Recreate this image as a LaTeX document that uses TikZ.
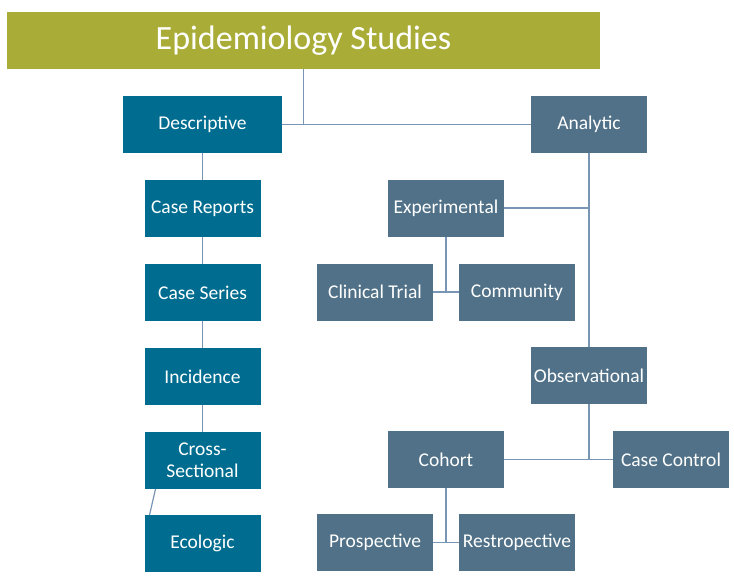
\documentclass[tikz,border=0pt]{standalone}
\usepackage{fontspec}
\setmainfont{Carlito}
\usetikzlibrary{positioning, calc}
\definecolor{titleolive}{RGB}{169,173,55}
\definecolor{descteal}{RGB}{0,109,144}
\definecolor{anaslate}{RGB}{80,113,135}
\definecolor{linkblue}{RGB}{120,150,180}
\tikzset{
  titlebox/.style={rectangle,fill=titleolive,text=white,minimum width=593pt,
    minimum height=57pt,inner sep=0pt,outer sep=0pt,font=\fontsize{34}{40}\selectfont},
  dbox/.style={rectangle,fill=descteal,text=white,minimum width=116pt,
    minimum height=57pt,inner sep=0pt,outer sep=0pt,align=center,
    font=\fontsize{19.5}{22}\selectfont},
  abox/.style={rectangle,fill=anaslate,text=white,minimum width=116pt,
    minimum height=57pt,inner sep=0pt,outer sep=0pt,align=center,
    font=\fontsize{19.5}{22}\selectfont},
  link/.style={line width=1.2pt,color=linkblue}
}
\begin{document}
\begin{tikzpicture}[x=1pt,y=-1pt,node distance=27pt and 26pt]
  \useasboundingbox (0,0) rectangle (734,579);
  \node[titlebox] (title) at (303.5,40.5) {Epidemiology Studies};
  % descriptive branch
  \node[dbox, minimum width=159pt] (desc) at (202.5,124.5) {Descriptive};
  \node[dbox, below=of desc]   (rep)   {Case Reports};
  \node[dbox, below=of rep]    (ser)   {Case Series};
  \node[dbox, below=of ser]    (inc)   {Incidence};
  \node[dbox, below=of inc]    (cross) {Cross-\\Sectional};
  \node[dbox, below=26pt of cross] (eco) {Ecologic};
  % analytic branch
  \node[abox] (ana)  at (589,124.5) {Analytic};
  \node[abox] (expt) at (446,208)   {Experimental};
  \node[abox, below left=27pt and -45pt of expt]  (clin) {Clinical Trial};
  \node[abox, right=of clin]   (comm)  {Community};
  \node[abox] (obs)  at (589,375.5) {Observational};
  \node[abox] (coh)  at (446,459.5) {Cohort};
  \node[abox] (cc)   at (671,459.5) {Case Control};
  \node[abox, below left=26pt and -45pt of coh]  (pro) {Prospective};
  \node[abox, right=of pro]    (ret)   {Restropective};

  \draw[link] (title.south) -- (title.south |- desc.east);
  \draw[link] (desc.east) -- (ana.west);
  \draw[link] (desc) -- (rep);
  \draw[link] (rep) -- (ser);
  \draw[link] (ser) -- (inc);
  \draw[link] (inc) -- (cross);
  \draw[link] ($(cross.south west)+(11,0)$) -- ($(eco.north west)+(5,0)$);
  \draw[link] (ana) -- (obs);
  \draw[link] (expt.east) -- (expt.east -| ana.south);
  \draw[link] (expt.south) -- (expt.south |- clin.east);
  \draw[link] (clin.east) -- (comm.west);
  \draw[link] (obs.south) -- (obs.south |- cc.west);
  \draw[link] (coh.east) -- (cc.west);
  \draw[link] (coh.south) -- (coh.south |- pro.east);
  \draw[link] (pro.east) -- (ret.west);
\end{tikzpicture}
\end{document}
